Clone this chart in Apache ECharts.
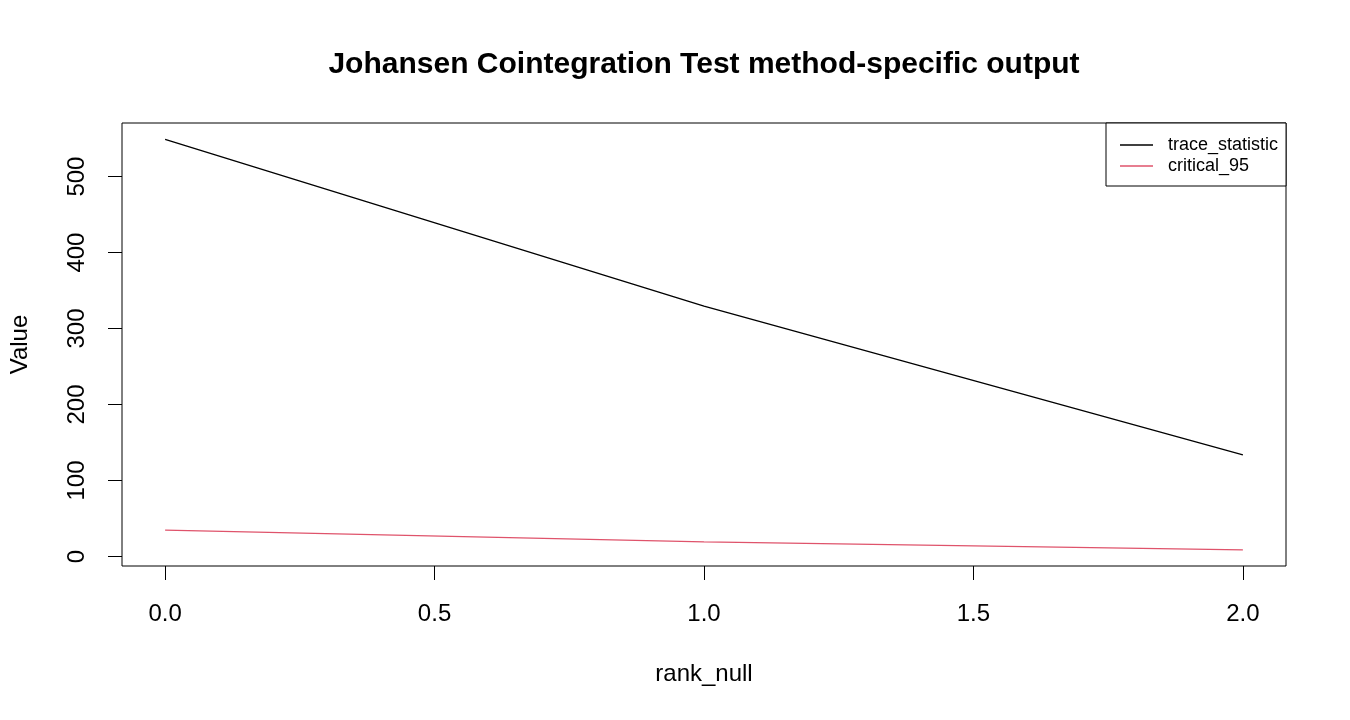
<!DOCTYPE html>
<html>
<head>
<meta charset="utf-8">
<script src="https://cdn.jsdelivr.net/npm/echarts@6/dist/echarts.min.js"></script>
<style>
  html, body { margin: 0; padding: 0; background: #fff; }
  #chart { width: 1350px; height: 720px; }
</style>
</head>
<body>
<div id="chart"></div>
<script>
// values
var rankNull = [0, 1, 2];
var traceStatistic = [548.9, 329.5, 133.7];
var critical95 = [34.8, 19.3, 8.8];
var xTicks = [0, 0.5, 1, 1.5, 2];
var yTicks = [0, 100, 200, 300, 400, 500];

var font = '"Liberation Sans", Arial, sans-serif';

function pairs(xs, ys) {
    var out = [];
    for (var i = 0; i < xs.length; i++) {
        out.push([xs[i], ys[i]]);
    }
    return out;
}

var myChart = echarts.init(document.getElementById('chart'));

var option = {
    animation: false,
    backgroundColor: '#fff',
    title: {
        text: 'Johansen Cointegration Test method-specific output',
        left: 699,
        top: 45,
        textAlign: 'center',
        textStyle: { fontFamily: font, fontSize: 30, fontWeight: 'bold', color: '#000' }
    },
    legend: {
        orient: 'vertical',
        left: 1106,
        top: 123,
        padding: [13, 8, 11, 14],
        icon: 'rect',
        itemWidth: 33,
        itemHeight: 1.5,
        itemGap: 3,
        borderColor: '#000',
        borderWidth: 1,
        borderRadius: 0,
        backgroundColor: '#fff',
        textStyle: {
            fontFamily: font, fontSize: 18, color: '#000',
            padding: [0, 0, 0, 10]
        },
        data: ['trace_statistic', 'critical_95']
    },
    grid: {
        left: 122,
        right: 64,
        top: 123,
        bottom: 154,
        outerBoundsMode: 'none',
        containLabel: false,
        show: true,
        borderColor: '#000',
        borderWidth: 1
    },
    xAxis: {
        type: 'value',
        min: -0.08,
        max: 2.08,
        name: 'rank_null',
        nameLocation: 'middle',
        nameGap: 96,
        nameTextStyle: { fontFamily: font, fontSize: 24, color: '#000' },
        axisLine: { show: false, onZero: false },
        axisTick: {
            show: true,
            length: 14,
            customValues: xTicks,
            lineStyle: { color: '#000', width: 1 }
        },
        axisLabel: {
            customValues: xTicks,
            margin: 36,
            fontFamily: font,
            fontSize: 24,
            color: '#000',
            formatter: function (v) { return v.toFixed(1); }
        },
        splitLine: { show: false }
    },
    yAxis: {
        type: 'value',
        min: -12.5,
        max: 570.5,
        name: 'Value',
        nameLocation: 'middle',
        nameGap: 90,
        nameTextStyle: { fontFamily: font, fontSize: 24, color: '#000' },
        axisLine: { show: false, onZero: false },
        axisTick: {
            show: true,
            length: 14,
            customValues: yTicks,
            lineStyle: { color: '#000', width: 1 }
        },
        axisLabel: {
            customValues: yTicks,
            rotate: 90,
            margin: 33,
            fontFamily: font,
            fontSize: 24,
            color: '#000'
        },
        splitLine: { show: false }
    },
    series: [
        {
            name: 'trace_statistic',
            type: 'line',
            data: pairs(rankNull, traceStatistic),
            symbol: 'none',
            color: '#000000',
            lineStyle: { color: '#000000', width: 1.3 }
        },
        {
            name: 'critical_95',
            type: 'line',
            data: pairs(rankNull, critical95),
            symbol: 'none',
            color: '#DF536B',
            lineStyle: { color: '#DF536B', width: 1.3 }
        }
    ]
};

if (option && typeof option === "object") {
    myChart.setOption(option, true);
}
</script>
</body>
</html>
